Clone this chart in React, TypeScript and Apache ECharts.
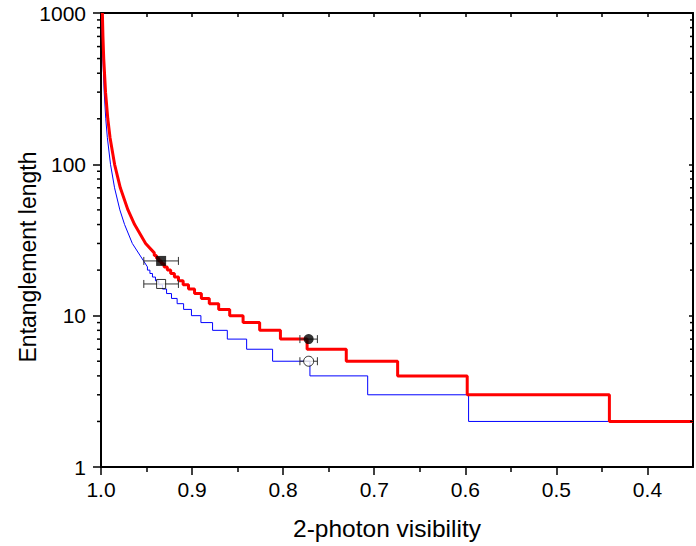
import React, { useEffect, useRef } from "react";
import * as echarts from "echarts";

// ---- axis ticks ----
const xMajorTicks = [1.0, 0.9, 0.8, 0.7, 0.6, 0.5, 0.4];
const xMinorTicks = [0.95, 0.85, 0.75, 0.65, 0.55, 0.45];
const xTopTicks = [0.95, 0.9, 0.85, 0.8, 0.75, 0.7, 0.65, 0.6, 0.55, 0.5, 0.45, 0.4];
const yMinorTicks = [2, 3, 4, 5, 6, 7, 8, 9, 20, 30, 40, 50, 60, 70, 80, 90, 200, 300, 400, 500, 600, 700, 800, 900];

// ---- red curve (thick): step levels and the visibility edges bounding them ----
const redLevels = [2, 3, 4, 5, 6, 7, 8, 9, 10, 11, 12, 13, 14, 15, 16, 17, 18, 19, 20, 21, 22, 23, 24, 25];
const redEdges = [0.35, 0.4418, 0.5979, 0.6743, 0.7307, 0.7737, 0.803, 0.8258, 0.844, 0.8587, 0.8708, 0.8811,
  0.8898, 0.8973, 0.9039, 0.9098, 0.9149, 0.9194, 0.9235, 0.9272, 0.9307, 0.9337, 0.9365, 0.9391, 0.9415];
const redTailV = [0.9415, 0.951, 0.9631, 0.9704, 0.9788, 0.9851, 0.99006, 0.99254, 0.99502, 0.99701, 0.99786, 0.9985];
const redTailN = [26, 30, 40, 50, 70, 100, 150, 200, 300, 500, 700, 1000];

// ---- blue curve (thin) ----
const blueLevels = [2, 3, 4, 5, 6, 7, 8, 9, 10, 11, 12, 13, 14, 15, 16, 17, 18, 19, 20];
const blueEdges = [0.35, 0.5964, 0.7072, 0.7706, 0.8116, 0.8401, 0.8613, 0.8775, 0.8903, 0.9007, 0.9093, 0.9164,
  0.9226, 0.928, 0.9325, 0.9366, 0.9402, 0.9435, 0.9463, 0.949];
const blueTailV = [0.949, 0.9656, 0.9741, 0.9793, 0.98513, 0.98956, 0.99303, 0.99477, 0.9965, 0.9979, 0.9985, 0.99895];
const blueTailN = [21, 30, 40, 50, 70, 100, 150, 200, 300, 500, 700, 1000];

// ---- measured points: [visibility, length, visibility error] ----
const filledSquare = [[0.934, 23, 0.019]];
const openSquare = [[0.934, 16.2, 0.019]];
const filledCircle = [[0.772, 7, 0.0096]];
const openCircle = [[0.772, 5, 0.0096]];

const xTitle = "2-photon visibility";
const yTitle = "Entanglement length";

function buildSteps(edges: number[], levels: number[], tailV: number[], tailN: number[]) {
  const pts: number[][] = [];
  for (let i = 0; i < levels.length; i++) {
    pts.push([edges[i], levels[i]]);
    pts.push([edges[i + 1], levels[i]]);
  }
  for (let i = 0; i < tailV.length; i++) pts.push([tailV[i], tailN[i]]);
  return pts;
}

export default function App() {
  const ref = useRef<HTMLDivElement>(null);
  useEffect(() => {
    const chart = echarts.init(ref.current!, null, { renderer: "svg" });
    const font = '"Liberation Sans", Arial, Helvetica, sans-serif';
    const red = buildSteps(redEdges, redLevels, redTailV, redTailN);
    const blue = buildSteps(blueEdges, blueLevels, blueTailV, blueTailN);
    const allErr = [...filledSquare, ...openSquare, ...filledCircle, ...openCircle];

    const yTickSeries = (values: number[], side: "left" | "right", len: number) => ({
      type: "custom",
      coordinateSystem: "cartesian2d",
      silent: true,
      clip: false,
      z: 5,
      data: values.map((v) => [1.0, v]),
      renderItem: (params: any, api: any) => {
        const y = api.coord([1.0, api.value(1)])[1];
        const cs = params.coordSys;
        const x0 = side === "left" ? cs.x : cs.x + cs.width;
        return {
          type: "line",
          shape: { x1: x0, y1: y, x2: x0 - len, y2: y },
          style: { stroke: "#000", lineWidth: 1.5 },
        };
      },
    });

    const commonX = { type: "value", min: 0.35, max: 1.0, inverse: true, splitLine: { show: false } };

    chart.setOption({
      animation: false,
      backgroundColor: "#fff",
      textStyle: { fontFamily: font },
      grid: { left: 101, right: 3, top: 13, bottom: 79, containLabel: false },
      graphic: [
        {
          type: "text",
          x: 387,
          y: 528,
          style: { text: xTitle, fontSize: 24.5, fill: "#000", fontFamily: font, align: "center", verticalAlign: "middle" },
        },
        {
          type: "text",
          x: 28,
          y: 257,
          rotation: Math.PI / 2,
          style: { text: yTitle, fontSize: 23, fill: "#000", fontFamily: font, align: "center", verticalAlign: "middle" },
        },
      ],
      xAxis: [
        {
          ...commonX,
          position: "bottom",
          axisLine: { show: true, onZero: false, lineStyle: { color: "#000", width: 2 } },
          axisTick: { show: true, length: 8, customValues: xMajorTicks, lineStyle: { color: "#000", width: 1.5 } },
          axisLabel: {
            show: true,
            customValues: xMajorTicks,
            formatter: (v: number) => v.toFixed(1),
            fontSize: 21,
            color: "#000",
            margin: 12,
            fontFamily: font,
          },
        },
        {
          ...commonX,
          position: "bottom",
          axisLine: { show: false },
          axisTick: { show: true, length: 5, customValues: xMinorTicks, lineStyle: { color: "#000", width: 1.5 } },
          axisLabel: { show: false },
        },
        {
          ...commonX,
          position: "top",
          axisLine: { show: true, onZero: false, lineStyle: { color: "#000", width: 2 } },
          axisTick: { show: true, inside: true, length: 4, customValues: xTopTicks, lineStyle: { color: "#000", width: 1.5 } },
          axisLabel: { show: false },
        },
      ],
      yAxis: [
        {
          type: "log",
          logBase: 10,
          min: 1,
          max: 1000,
          splitNumber: 3,
          position: "left",
          axisLine: { show: true, onZero: false, lineStyle: { color: "#000", width: 2 } },
          axisTick: { show: true, length: 8, lineStyle: { color: "#000", width: 1.5 } },
          axisLabel: {
            show: true,
            fontSize: 21,
            color: "#000",
            margin: 15,
            fontFamily: font,
            formatter: (v: number) => String(Math.round(v)),
          },
          splitLine: { show: false },
        },
        {
          type: "log",
          logBase: 10,
          min: 1,
          max: 1000,
          splitNumber: 3,
          position: "right",
          axisLine: { show: true, onZero: false, lineStyle: { color: "#000", width: 2 } },
          axisTick: { show: true, inside: true, length: 4, lineStyle: { color: "#000", width: 1.5 } },
          axisLabel: { show: false },
          splitLine: { show: false },
        },
      ],
      series: [
        {
          type: "line",
          data: blue,
          showSymbol: false,
          symbol: "none",
          lineStyle: { color: "#0000ff", width: 1 },
          z: 2,
        },
        {
          type: "line",
          data: red,
          showSymbol: false,
          symbol: "none",
          lineStyle: { color: "#ff0000", width: 3 },
          z: 3,
        },
        {
          type: "custom",
          coordinateSystem: "cartesian2d",
          silent: true,
          z: 4,
          data: allErr,
          renderItem: (params: any, api: any) => {
            const v = api.value(0);
            const n = api.value(1);
            const e = api.value(2);
            const a = api.coord([v + e, n]);
            const b = api.coord([v - e, n]);
            const h = 4;
            const st = { stroke: "#333", lineWidth: 1 };
            return {
              type: "group",
              children: [
                { type: "line", shape: { x1: a[0], y1: a[1], x2: b[0], y2: b[1] }, style: st },
                { type: "line", shape: { x1: a[0], y1: a[1] - h, x2: a[0], y2: a[1] + h }, style: st },
                { type: "line", shape: { x1: b[0], y1: b[1] - h, x2: b[0], y2: b[1] + h }, style: st },
              ],
            };
          },
        },
        {
          type: "scatter",
          data: filledSquare.map((p) => [p[0], p[1]]),
          symbol: "rect",
          symbolSize: 10,
          itemStyle: { color: "#000" },
          z: 6,
        },
        {
          type: "scatter",
          data: openSquare.map((p) => [p[0], p[1]]),
          symbol: "rect",
          symbolSize: 9,
          itemStyle: { color: "#fff", borderColor: "#000", borderWidth: 1 },
          z: 6,
        },
        {
          type: "scatter",
          data: filledCircle.map((p) => [p[0], p[1]]),
          symbol: "circle",
          symbolSize: 10,
          itemStyle: { color: "#000" },
          z: 6,
        },
        {
          type: "scatter",
          data: openCircle.map((p) => [p[0], p[1]]),
          symbol: "circle",
          symbolSize: 10,
          itemStyle: { color: "#fff", borderColor: "#000", borderWidth: 1 },
          z: 6,
        },
        yTickSeries(yMinorTicks, "left", 4),
        yTickSeries(yMinorTicks, "right", 3),
      ],
    } as any);
    return () => chart.dispose();
  }, []);
  return (
    <div
      ref={ref}
      style={{ position: "fixed", left: 0, top: 0, width: 696, height: 546, background: "#fff" }}
    />
  );
}
